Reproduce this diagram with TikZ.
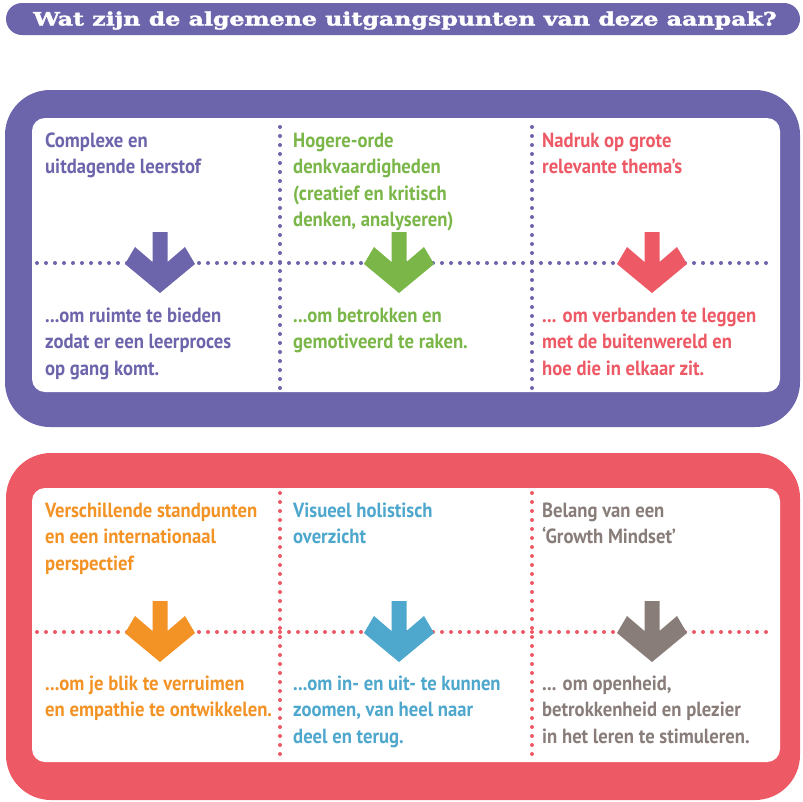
\documentclass[tikz,border=0pt]{standalone}
\usepackage{fontspec}
\newfontfamily\bodyfont[FakeStretch=0.91]{PT Sans}
\newfontfamily\headfont[FakeStretch=1.28,FakeBold=2]{DejaVu Serif}
\definecolor{cpurple}{RGB}{108,101,172}
\definecolor{cgreen}{RGB}{122,182,72}
\definecolor{cred}{RGB}{237,90,102}
\definecolor{corange}{RGB}{243,147,37}
\definecolor{cblue}{RGB}{78,167,205}
\definecolor{cgray}{RGB}{137,125,122}
\newcommand{\ML}[1]{\vtop{\baselineskip=26.5pt\halign{##\hfil\cr#1\cr}}}
\tikzset{
  txt/.style={anchor=base west, inner sep=0pt, font=\bodyfont\bfseries\fontsize{20.5}{26.5}\selectfont},
  dotline/.style={line width=4pt, line cap=round, dash pattern=on 0pt off 9pt},
  darrow/.pic={\fill (0,30) -- (-35,1) -- (-25,-16) -- (-7.5,-1) -- (-7.5,-31) -- (7.5,-31) -- (7.5,-1) -- (25,-16) -- (35,1) -- cycle;}
}
\begin{document}
\begin{tikzpicture}[x=1pt,y=-1pt]
\useasboundingbox (0,0) rectangle (803,801);
% header
\fill[cpurple, rounded corners=16pt] (6,3) rectangle (800,35);
\node[anchor=base west, inner sep=0pt, text=white, font=\headfont\bfseries\fontsize{18.5}{20}\selectfont] (head) at (33,25.5) {Wat zijn de algemene uitgangspunten van deze aanpak?};
% top box
\fill[cpurple, rounded corners=45pt] (5,90) rectangle (800,427);
\fill[white, rounded corners=13pt] (32,118) rectangle (780,392);
\draw[dotline, cpurple] (280,127) -- (280,388);
\draw[dotline, cpurple] (532,127) -- (532,388);
\draw[dotline, cpurple] (37,263) -- (773,263);
\pic[fill=cpurple] at (160,263) {darrow};
\pic[fill=cgreen] at (399,263) {darrow};
\pic[fill=cred] at (652,263) {darrow};
\node[txt, text=cpurple] (t1) at (45,147) {\ML{Complexe en\cr uitdagende leerstof}};
\node[txt, text=cgreen] (t2) at (293,147) {\ML{Hogere-orde\cr denkvaardigheden\cr (creatief en kritisch\cr denken, analyseren)}};
\node[txt, text=cred] (t3) at (542,147) {\ML{Nadruk op grote\cr relevante thema’s}};
\node[txt, text=cpurple] (r1) at (45,322) {\ML{...om ruimte te bieden\cr zodat er een leerproces\cr op gang komt.}};
\node[txt, text=cgreen] (r2) at (293,322) {\ML{...om betrokken en\cr gemotiveerd te raken.}};
\node[txt, text=cred] (r3) at (542,322) {\ML{... om verbanden te leggen\cr met de buitenwereld en\cr hoe die in elkaar zit.}};
% bottom box
\fill[cred, rounded corners=45pt] (6,453) rectangle (800,800);
\fill[white, rounded corners=13pt] (32,488) rectangle (780,762);
\draw[dotline, cred] (280,493) -- (280,757);
\draw[dotline, cred] (532,493) -- (532,757);
\draw[dotline, cred] (37,632) -- (773,632);
\pic[fill=corange] at (160,632) {darrow};
\pic[fill=cblue] at (399,632) {darrow};
\pic[fill=cgray] at (652,632) {darrow};
\node[txt, text=corange] (t4) at (45,517) {\ML{Verschillende standpunten\cr en een internationaal\cr perspectief}};
\node[txt, text=cblue] (t5) at (293,517) {\ML{Visueel holistisch\cr overzicht}};
\node[txt, text=cgray] (t6) at (542,517) {\ML{Belang van een\cr ‘Growth Mindset’}};
\node[txt, text=corange] (r4) at (45,690) {\ML{...om je blik te verruimen\cr en empathie te ontwikkelen.}};
\node[txt, text=cblue] (r5) at (293,690) {\ML{...om in- en uit- te kunnen\cr zoomen, van heel naar\cr deel en terug.}};
\node[txt, text=cgray] (r6) at (542,690) {\ML{... om openheid,\cr betrokkenheid en plezier\cr in het leren te stimuleren.}};
\end{tikzpicture}
\end{document}
